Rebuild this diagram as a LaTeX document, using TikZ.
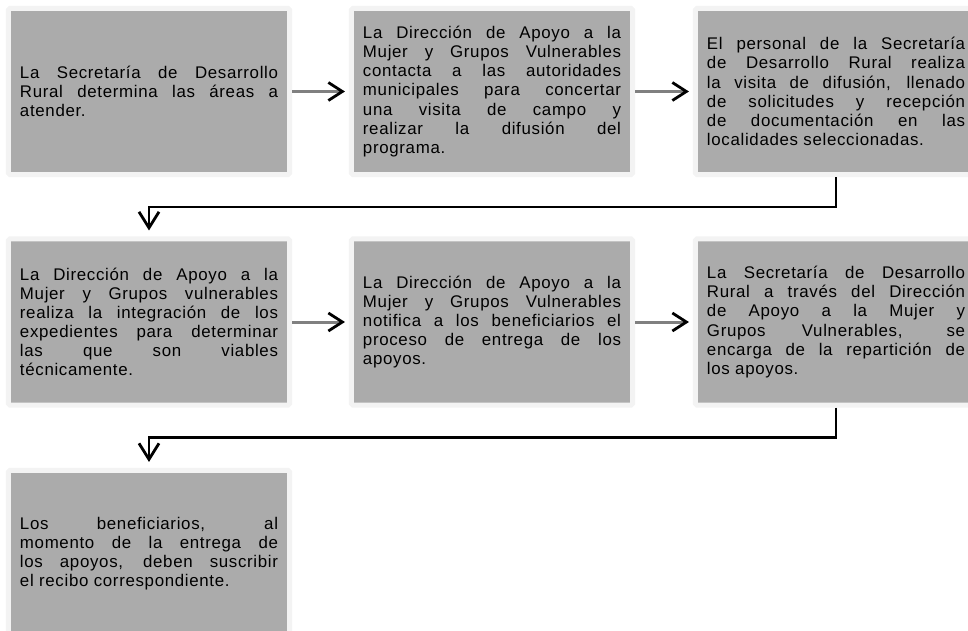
\documentclass[tikz,border=0pt]{standalone}
\usepackage{fontspec}
\setmainfont{Liberation Sans}[LetterSpace=4]
\usetikzlibrary{arrows.meta}
\definecolor{cajagris}{HTML}{ABABAB}
\definecolor{bordeclaro}{HTML}{F3F3F3}
\definecolor{flechagris}{HTML}{808080}
\tolerance=10000
\hbadness=10000
\hyphenpenalty=10000

\begin{document}
\begin{tikzpicture}[x=0.025cm, y=-0.025cm,
    caja/.style={fill=cajagris, draw=bordeclaro, line width=0.125cm,
      rounded corners=1pt, minimum width=7.025cm, minimum height=4.15cm,
      text width=6.45cm, inner sep=0pt, align=justify,
      font=\fontsize{12pt}{13.6pt}\selectfont},
    paso/.style={draw=flechagris, line width=0.075cm, shorten >=0.1cm,
      -{Straight Barb[color=black, length=0.35cm, width=0.45cm, line width=0.07cm]}},
    codo/.style={draw=black, line width=0.06cm, shorten >=0.15cm,
      -{Straight Barb[length=0.4cm, width=0.5cm, line width=0.07cm]}}]

\useasboundingbox (0,0) rectangle (968,631);
\clip (0,0) rectangle (968,631);

% Primera fila
\node[caja] (areas) at (149,91.5) {La Secretaría de Desarrollo\linebreak
  Rural determina las áreas a\linebreak atender.};
\node[caja] (contacto) at (492,91.5) {La Dirección de Apoyo a la\linebreak
  Mujer y Grupos Vulnerables\linebreak contacta a las autoridades\linebreak
  municipales para concertar\linebreak una visita de campo y\linebreak
  realizar la difusión del\linebreak programa.};
\node[caja] (visita) at (836,91.5) {El personal de la Secretaría\linebreak
  de Desarrollo Rural realiza\linebreak la visita de difusión, llenado\linebreak
  de solicitudes y recepción\linebreak de documentación en las\linebreak
  localidades seleccionadas.};

% Segunda fila
\node[caja] (integra) at (149,322) {La Dirección de Apoyo a la\linebreak
  Mujer y Grupos vulnerables\linebreak realiza la integración de los\linebreak
  expedientes para determinar\linebreak las que son viables\linebreak
  técnicamente.};
\node[caja] (notifica) at (492,322) {La Dirección de Apoyo a la\linebreak
  Mujer y Grupos Vulnerables\linebreak notifica a los beneficiarios el\linebreak
  proceso de entrega de los\linebreak apoyos.};
\node[caja] (reparte) at (836,322) {La Secretaría de Desarrollo\linebreak
  Rural a través del Dirección\linebreak de Apoyo a la Mujer y\linebreak
  Grupos Vulnerables, se\linebreak encarga de la repartición de\linebreak
  los apoyos.};

% Tercera fila
\node[caja] (recibo) at (149,553.5) {Los beneficiarios, al\linebreak
  momento de la entrega de\linebreak los apoyos, deben suscribir\linebreak
  el recibo correspondiente.};

% Flechas horizontales
\draw[paso] (areas) -- (contacto);
\draw[paso] (contacto) -- (visita);
\draw[paso] (integra) -- (notifica);
\draw[paso] (notifica) -- (reparte);

% Flechas de cambio de fila
\draw[codo] (visita.south) -- ++(0,30) -| (integra.north);
\draw[codo] (reparte.south) -- ++(0,30) -| (recibo.north);

\end{tikzpicture}
\end{document}
